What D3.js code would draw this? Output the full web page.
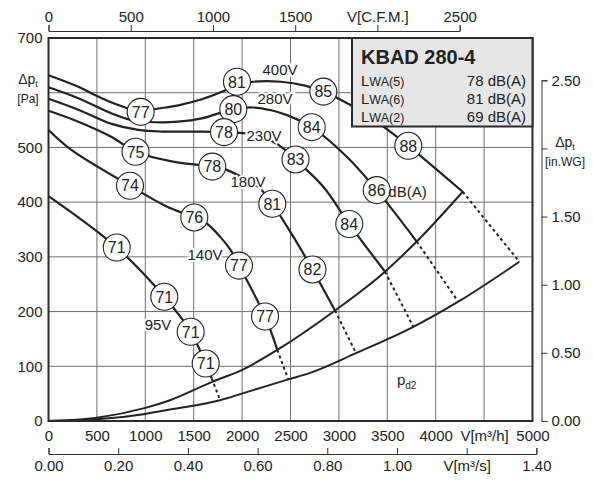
<!DOCTYPE html>
<html><head><meta charset="utf-8">
<script src="https://cdn.jsdelivr.net/npm/d3@7"></script>
<style>
body{margin:0;background:#fff;}
svg text{font-family:"Liberation Sans",Arial,Helvetica,sans-serif;fill:#222;}
</style></head><body>
<svg id="c" width="594" height="483"></svg>
<script>
// ---------- data (V in m3/h, dp in Pa) ----------
const curve400 = [[0,632],[308,611],[480,596],[653,582],[808,572],[952,565],[1100,570],[1341,577],[1583,588],[1823,604],[1947,614],[2113,620],[2400,620],[2650,613],[2839,602],[3115,578],[3459,538],[3717,503],[4279,419]];
const curve280 = [[0,610],[308,590],[653,562],[860,550],[1100,546],[1341,547],[1583,553],[1909,570],[2113,573],[2300,568],[2464,559],[2719,537],[3081,483],[3391,422],[3804,328]];
const curve230 = [[0,589],[308,569],[653,543],[928,532],[1169,529],[1513,529],[1813,528],[2100,524],[2290,513],[2474,492],[2552,478],[2839,428],[3107,360],[3476,273]];
const curve180 = [[0,567],[308,547],[653,519],[899,492],[1286,474],[1692,465],[1841,459],[2061,439],[2185,425],[2312,397],[2529,337],[2727,277],[2960,202]];
const curve140 = [[0,532],[240,495],[842,430],[1221,392],[1506,372],[1634,361],[1772,337],[1875,314],[1968,284],[2237,191],[2364,130]];
const curve95  = [[0,411],[705,317],[1196,227],[1469,163],[1624,105],[1686,78]];
// dotted continuation from the end of each curve to the lower system curve
const dottedEnds = [[4864,291],[4233,218],[3769,172],[3177,124],[2477,76],[1772,38]];
// system curves
const sysUpper = [[0,0],[500,6],[1000,24],[1255,38],[1696,72],[1996,93],[2364,130],[2960,202],[3476,273],[3804,328],[4279,419]];
const sysLower = [[0,0],[500,3],[1000,13],[1255,21],[1772,38],[1996,50],[2477,76],[2702,88],[3177,124],[3769,172],[4233,218],[4864,291]];
// dB(A) circles [V, dp, value]
const dbLabels = [
  [952,565,"77"],[1947,620,"81"],[2839,602,"85"],[3717,503,"88"],
  [1909,570,"80"],[2719,537,"84"],[3391,422,"86"],
  [1813,528,"78"],[2552,478,"83"],[3107,360,"84"],
  [899,492,"75"],[1692,465,"78"],[2312,397,"81"],[2727,277,"82"],
  [842,430,"74"],[1506,372,"76"],[1968,284,"77"],[2237,191,"77"],
  [705,317,"71"],[1196,227,"71"],[1469,163,"71"],[1624,105,"71"]
];
const voltLabels = [[2392,642,"400V"],[2340,590,"280V"],[2226,521,"230V"],[2061,437,"180V"],[1617,305,"140V"],[1131,177,"95V"]];
const legendTitle = "KBAD 280-4";
const legendRows = [["(5)","78 dB(A)"],["(6)","81 dB(A)"],["(2)","69 dB(A)"]];
const ticksM3h = [0,500,1000,1500,2000,2500,3000,3500,4000,4500,5000];
const ticksPa = [0,100,200,300,400,500,700];
const ticksCFM = [0,500,1000,1500,2000,2500];
const ticksM3s = [0,0.2,0.4,0.6,0.8,1.0,1.2,1.4];
const ticksInWG = [0,0.5,1.0,1.5,2.0,2.5];

// ---------- scales ----------
const L=48.5, R=532.5, T=38, B=421;
const x = d3.scaleLinear([0,5000],[L,R]);
const y = d3.scaleLinear([0,700],[B,T]);
const xCFM = d3.scaleLinear([0,2500],[x(0),x(2500*1.69901)]);
const xS = d3.scaleLinear([0,1.4],[x(0),x(1.4*3600)]);
const yIn = d3.scaleLinear([0,2.5],[y(0),y(2.5*249.089)]);

const svg = d3.select("#c");
const ink="#222";

// grid
const grid = svg.append("g").attr("stroke","#6e6e6e").attr("stroke-width",1);
grid.selectAll("line.v").data(ticksM3h.filter(d=>d>0&&d<5000)).join("line")
  .attr("x1",d=>x(d)).attr("x2",d=>x(d)).attr("y1",T).attr("y2",B);
grid.selectAll("line.h").data([100,200,300,400,500,600]).join("line")
  .attr("x1",L).attr("x2",R).attr("y1",d=>y(d)).attr("y2",d=>y(d));

const line = d3.line().x(d=>x(d[0])).y(d=>y(d[1])).curve(d3.curveCatmullRom.alpha(0.5));
const lineS = d3.line().x(d=>x(d[0])).y(d=>y(d[1])).curve(d3.curveMonotoneX);

const plot = svg.append("g");
plot.selectAll("path.sys").data([sysUpper,sysLower]).join("path")
  .attr("d",lineS).attr("fill","none").attr("stroke",ink).attr("stroke-width",2);
const curves=[curve400,curve280,curve230,curve180,curve140,curve95];
plot.selectAll("path.fan").data(curves).join("path")
  .attr("d",line).attr("fill","none").attr("stroke",ink).attr("stroke-width",2.2);
plot.selectAll("line.dot").data(curves).join("line")
  .attr("x1",d=>x(d[d.length-1][0])).attr("y1",d=>y(d[d.length-1][1]))
  .attr("x2",(d,i)=>x(dottedEnds[i][0])).attr("y2",(d,i)=>y(dottedEnds[i][1]))
  .attr("stroke",ink).attr("stroke-width",2).attr("stroke-dasharray","3,3");

// voltage labels
svg.append("g").selectAll("text").data(voltLabels).join("text")
  .attr("x",d=>x(d[0])).attr("y",d=>y(d[1])).attr("dy","0.36em")
  .attr("text-anchor","middle").attr("font-size",15)
  .attr("stroke","#fff").attr("stroke-width",4).attr("paint-order","stroke")
  .text(d=>d[2]);

// circles
const c = svg.append("g").selectAll("g").data(dbLabels).join("g")
  .attr("transform",d=>`translate(${x(d[0])},${y(d[1])})`);
c.append("circle").attr("r",13.5).attr("fill","#fff").attr("stroke",ink).attr("stroke-width",1.1);
c.append("text").attr("text-anchor","middle").attr("dy","0.36em").attr("font-size",16).text(d=>d[2]);

// dB(A) and p_d2 labels
svg.append("text").attr("x",x(3500)+1).attr("y",y(420)).attr("dy","0.36em").attr("font-size",15).text("dB(A)");
const pd = svg.append("text").attr("x",x(3600)).attr("y",y(75)).attr("dy","0.36em").attr("font-size",15);
pd.append("tspan").text("p");
pd.append("tspan").attr("font-size",10).attr("dy","4").text("d2");

// plot border
svg.append("rect").attr("x",L).attr("y",T).attr("width",R-L).attr("height",B-T)
  .attr("fill","none").attr("stroke","#2a2a2a").attr("stroke-width",2);

// legend
const lg = svg.append("g");
lg.append("rect").attr("x",352).attr("y",T).attr("width",R-352).attr("height",88.5)
  .attr("fill","#e6e6e6").attr("stroke","#2a2a2a").attr("stroke-width",2);
lg.append("text").attr("x",361).attr("y",64).attr("font-size",20).attr("font-weight","bold").attr("fill","#111").text(legendTitle);
legendRows.forEach((r,i)=>{
  const yy = 86+i*17.8;
  const t = lg.append("text").attr("x",361).attr("y",yy).attr("font-size",15);
  t.append("tspan").text("L");
  t.append("tspan").attr("font-size",12.5).text("WA"+r[0]);
  lg.append("text").attr("x",526).attr("y",yy).attr("text-anchor","end").attr("font-size",15).text(r[1]);
});

function styleAxis(g,fs){
  g.attr("font-family",null).attr("font-size",null);
  g.selectAll("text").attr("font-size",fs).attr("fill","#222");
  g.selectAll("line,path").attr("stroke","#333");
}
// top axis CFM
svg.append("g").attr("transform","translate(0,31)")
  .call(d3.axisTop(xCFM).tickValues(ticksCFM).tickSize(6).tickSizeOuter(6).tickPadding(3)
    .tickFormat(d=>d===2000?"V[C.F.M.]":d))
  .call(g=>styleAxis(g,15));
// bottom m3/h labels
svg.append("g").attr("transform",`translate(0,${B})`)
  .call(d3.axisBottom(x).tickValues(ticksM3h).tickSize(0).tickPadding(9)
    .tickFormat(d=>d===4500?"V[m³/h]":d))
  .call(g=>{styleAxis(g,15); g.select(".domain").remove();});
// bottom m3/s axis
svg.append("g").attr("transform","translate(0,454)")
  .call(d3.axisBottom(xS).tickValues(ticksM3s).tickSizeInner(-6).tickSizeOuter(-6).tickPadding(6)
    .tickFormat(d=>Math.abs(d-1.2)<1e-9?"V[m³/s]":d.toFixed(2)))
  .call(g=>styleAxis(g,15));
// left axis labels
svg.append("g").attr("transform",`translate(${L},0)`)
  .call(d3.axisLeft(y).tickValues(ticksPa).tickSize(0).tickPadding(6))
  .call(g=>{styleAxis(g,15); g.select(".domain").remove();});
// right axis
svg.append("g").attr("transform","translate(541.5,0)")
  .call(d3.axisRight(yIn).tickValues(ticksInWG).tickSize(6).tickSizeOuter(6).tickPadding(4)
    .tickFormat(d=>d===2?"":d.toFixed(2)))
  .call(g=>styleAxis(g,15));

// axis titles
function dpLabel(cx,cy,unit){
  const t=svg.append("text").attr("x",cx).attr("y",cy).attr("text-anchor","middle").attr("font-size",14);
  t.append("tspan").text("Δp");
  t.append("tspan").attr("font-size",9).attr("dy",3).text("t");
  svg.append("text").attr("x",cx).attr("y",cy+19).attr("text-anchor","middle").attr("font-size",12).text(unit);
}
dpLabel(28,84,"[Pa]");
dpLabel(565,147,"[in.WG]");
</script>
</body></html>
